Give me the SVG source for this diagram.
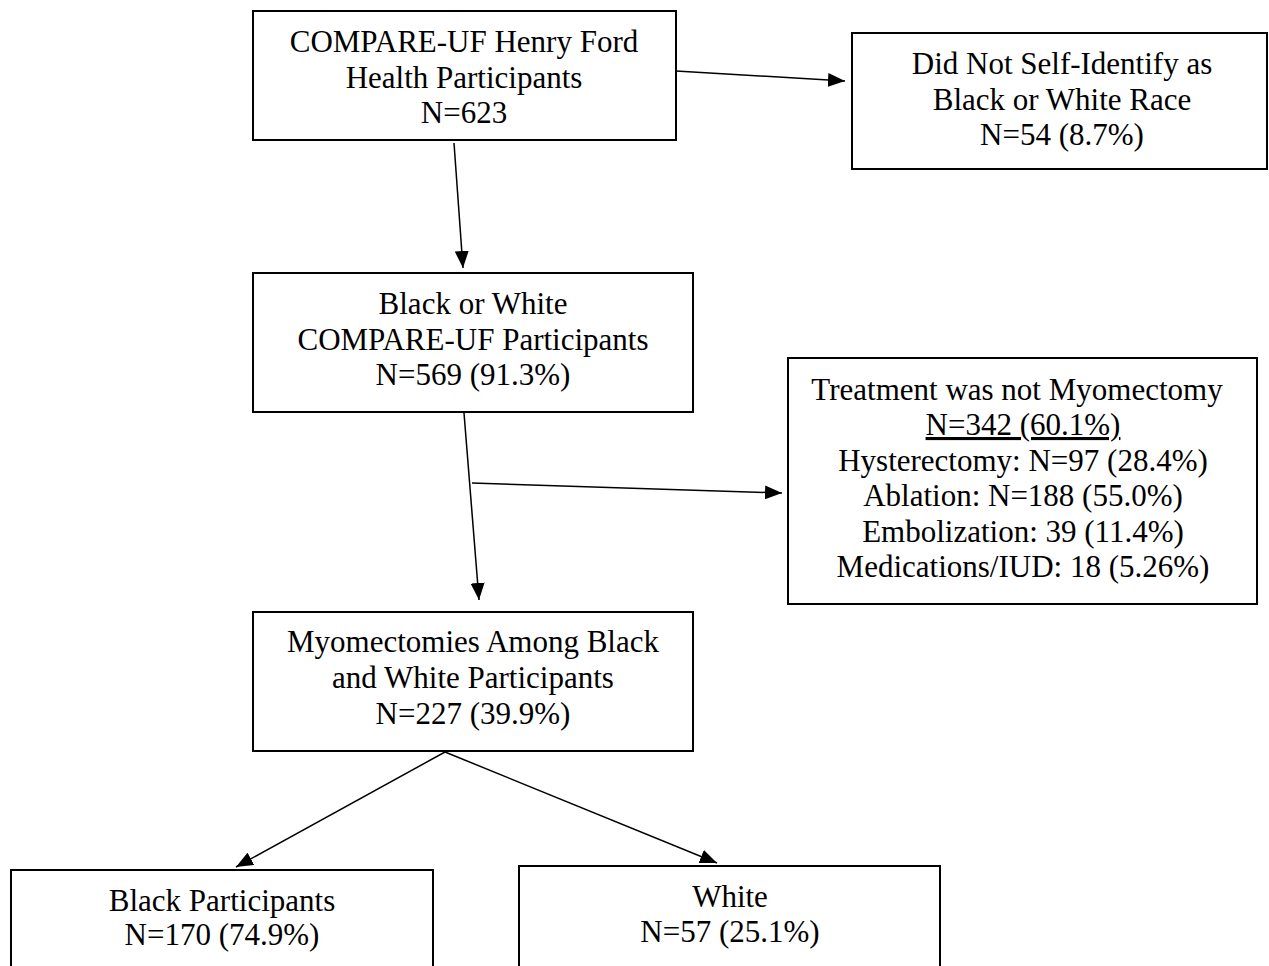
<svg xmlns="http://www.w3.org/2000/svg" width="1269" height="966" viewBox="0 0 1269 966">
<style>
.box{fill:#fff;stroke:#000;stroke-width:2}
.t{font-family:"Liberation Serif","Times New Roman",serif;font-size:31px;fill:#000;text-anchor:middle}
.c{stroke:#000;stroke-width:1.5;fill:none;marker-end:url(#ah)}
</style>
<defs>
<marker id="ah" markerUnits="userSpaceOnUse" markerWidth="18" markerHeight="14" refX="17" refY="7" orient="auto" viewBox="0 0 18 14">
<path d="M0,0 L17,7 L0,14 z" fill="#000"/>
</marker>
</defs>
<rect width="1269" height="966" fill="#fff"/>
<g id="connectors">
<line class="c" x1="676" y1="71" x2="845" y2="81"/>
<line class="c" x1="454" y1="143" x2="463" y2="268"/>
<line class="c" x1="464" y1="413" x2="479" y2="600"/>
<line class="c" x1="472" y1="483" x2="782" y2="493"/>
<line class="c" x1="445" y1="752" x2="236" y2="867"/>
<line class="c" x1="445" y1="752" x2="717" y2="863"/>
</g>
<g id="n1">
<rect class="box" x="253" y="11" width="423" height="129"/>
<text class="t" x="464" y="52">COMPARE-UF Henry Ford</text>
<text class="t" x="464" y="88">Health Participants</text>
<text class="t" x="464" y="123">N=623</text>
</g>
<g id="n2">
<rect class="box" x="852" y="33" width="415" height="136"/>
<text class="t" x="1062" y="74">Did Not Self-Identify as</text>
<text class="t" x="1062" y="110">Black or White Race</text>
<text class="t" x="1062" y="145">N=54 (8.7%)</text>
</g>
<g id="n3">
<rect class="box" x="253" y="273" width="440" height="139"/>
<text class="t" x="473" y="314">Black or White</text>
<text class="t" x="473" y="350">COMPARE-UF Participants</text>
<text class="t" x="473" y="385">N=569 (91.3%)</text>
</g>
<g id="n4">
<rect class="box" x="788" y="358" width="469" height="246"/>
<text class="t" x="1017" y="400">Treatment was not Myomectomy</text>
<text class="t" x="1023" y="435" text-decoration="underline">N=342 (60.1%)</text>
<text class="t" x="1023" y="471">Hysterectomy: N=97 (28.4%)</text>
<text class="t" x="1023" y="506">Ablation: N=188 (55.0%)</text>
<text class="t" x="1023" y="542">Embolization: 39 (11.4%)</text>
<text class="t" x="1023" y="577">Medications/IUD: 18 (5.26%)</text>
</g>
<g id="n5">
<rect class="box" x="253" y="612" width="440" height="139"/>
<text class="t" x="473" y="652">Myomectomies Among Black</text>
<text class="t" x="473" y="688">and White Participants</text>
<text class="t" x="473" y="724">N=227 (39.9%)</text>
</g>
<g id="n6">
<rect class="box" x="11" y="870" width="422" height="110"/>
<text class="t" x="222" y="911">Black Participants</text>
<text class="t" x="222" y="945">N=170 (74.9%)</text>
</g>
<g id="n7">
<rect class="box" x="519" y="866" width="421" height="110"/>
<text class="t" x="730" y="907">White</text>
<text class="t" x="730" y="942">N=57 (25.1%)</text>
</g>
</svg>
